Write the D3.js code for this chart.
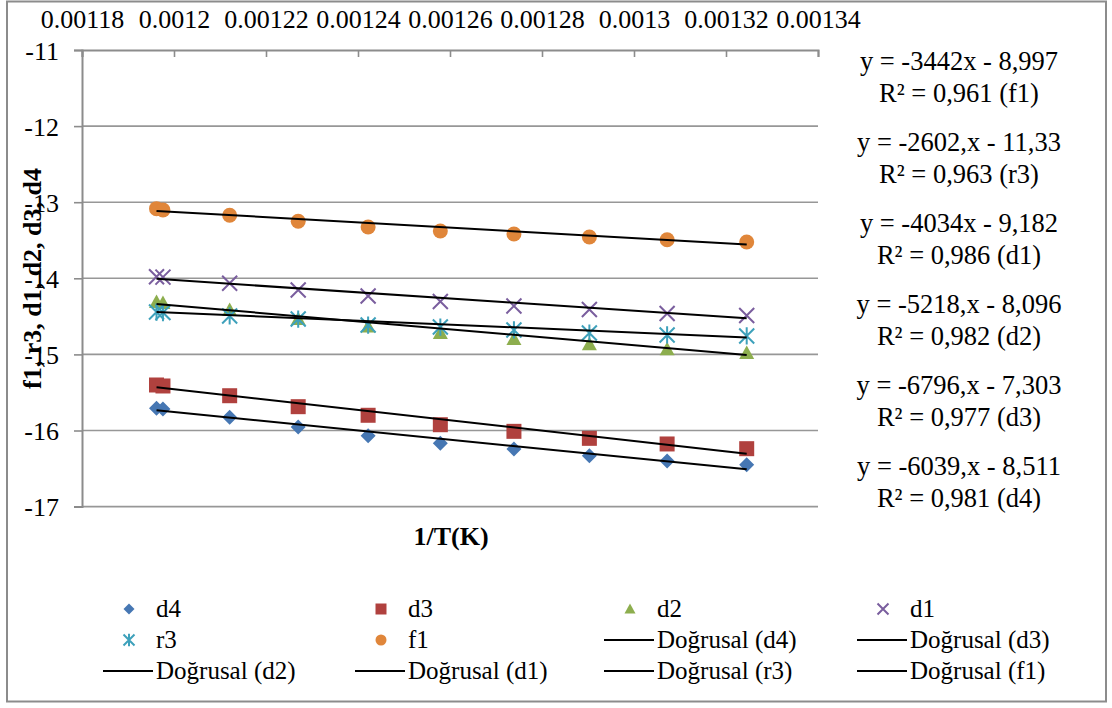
<!DOCTYPE html>
<html>
<head>
<meta charset="utf-8">
<script src="https://d3js.org/d3.v7.min.js"></script>
<style>
  html, body { margin: 0; padding: 0; background: #ffffff; }
  svg { display: block; font-family: "Liberation Serif", "Times New Roman", serif; }
</style>
</head>
<body>
<svg id="chart" width="1112" height="708"></svg>
<script>
// 1/T values (1/K) shared by every series
const invT = [0.0011962, 0.0011976, 0.0012121, 0.0012270, 0.0012422, 0.0012579, 0.0012739, 0.0012903, 0.0013072, 0.0013245];

// Measured values per sample
const valsD4 = [-15.708, -15.717, -15.827, -15.954, -16.068, -16.168, -16.243, -16.331, -16.401, -16.449];
const valsD3 = [-15.402, -15.415, -15.543, -15.687, -15.800, -15.924, -16.011, -16.103, -16.177, -16.239];
const valsD2 = [-14.311, -14.325, -14.417, -14.535, -14.633, -14.719, -14.798, -14.867, -14.933, -14.982];
const valsD1 = [-13.979, -13.985, -14.066, -14.154, -14.233, -14.305, -14.364, -14.410, -14.463, -14.489];
const valsR3 = [-14.443, -14.450, -14.495, -14.535, -14.614, -14.640, -14.679, -14.719, -14.745, -14.758];
const valsF1 = [-13.085, -13.102, -13.172, -13.251, -13.326, -13.378, -13.418, -13.457, -13.493, -13.523];

// Series names, plotting order and marker colours
const seriesNames = ["d4", "d3", "d2", "d1", "r3", "f1"];
const seriesValues = [valsD4, valsD3, valsD2, valsD1, valsR3, valsF1];
const seriesColors = ["#4677b3", "#b0413e", "#8dae4e", "#7a5e9e", "#3ea1bb", "#e0863a"];
const seriesShapes = ["diamond", "square", "triangle", "cross", "star", "circle"];

// Linear fits y = a*x + b
const fitSlope = [-6039, -6796, -5218, -4034, -2602, -3442];
const fitIntercept = [-8.511, -7.303, -8.096, -9.182, -11.33, -8.997];

// Fit labels, listed top to bottom
const fitEquationText = ["y = -3442x - 8,997", "y = -2602,x - 11,33", "y = -4034x - 9,182",
                         "y = -5218,x - 8,096", "y = -6796,x - 7,303", "y = -6039,x - 8,511"];
const fitR2Text = ["R² = 0,961 (f1)", "R² = 0,963 (r3)", "R² = 0,986 (d1)",
                   "R² = 0,982 (d2)", "R² = 0,977 (d3)", "R² = 0,981 (d4)"];

// Axis ticks
const xTicks = [0.00118, 0.0012, 0.00122, 0.00124, 0.00126, 0.00128, 0.0013, 0.00132, 0.00134];
const yTicks = [-11, -12, -13, -14, -15, -16, -17];

const svg = d3.select("#chart");
const plot = { left: 82, right: 818, top: 50, bottom: 506.6 };

// Outer frame
svg.append("rect")
  .attr("x", 7).attr("y", 1.5).attr("width", 1099).attr("height", 700)
  .attr("fill", "#ffffff").attr("stroke", "#8c8c8c").attr("stroke-width", 2);

const x = d3.scaleLinear().domain([0.00118, 0.00134]).range([plot.left, plot.right]);
const y = d3.scaleLinear().domain([-11, -17]).range([plot.top, plot.bottom]);

// Horizontal gridlines
svg.append("g").selectAll("line")
  .data(yTicks.filter(v => v !== -11))
  .join("line")
  .attr("x1", plot.left).attr("x2", plot.right)
  .attr("y1", d => y(d)).attr("y2", d => y(d))
  .attr("stroke", "#979797").attr("stroke-width", 1.6);

// Left value axis
const yAxis = d3.axisLeft(y).tickValues(yTicks).tickSize(8).tickPadding(15)
  .tickFormat(d => String(d));
const gy = svg.append("g").attr("transform", `translate(${plot.left},0)`).call(yAxis);
gy.select(".domain").attr("stroke", "#8c8c8c").attr("stroke-width", 2);
gy.selectAll(".tick line").attr("stroke", "#8c8c8c").attr("stroke-width", 1.6);
gy.selectAll(".tick text").attr("font-size", 26).attr("fill", "#000")
  .attr("font-family", "Liberation Serif").attr("dy", "0.36em");

// Top category axis (1/T)
const xAxis = d3.axisTop(x).tickValues(xTicks).tickSizeInner(-7).tickSizeOuter(-7).tickPadding(22)
  .tickFormat(d => String(+d.toFixed(5)));
const gx = svg.append("g").attr("transform", `translate(0,${plot.top})`).call(xAxis);
gx.select(".domain").attr("stroke", "#8c8c8c").attr("stroke-width", 2);
gx.selectAll(".tick line").attr("stroke", "#8c8c8c").attr("stroke-width", 1.6);
gx.selectAll(".tick text").attr("font-size", 26).attr("fill", "#000")
  .attr("font-family", "Liberation Serif");

// Marker shapes
function markerPath(shape, s) {
  const h = s / 2;
  switch (shape) {
    case "diamond": return `M0,${-h}L${h},0L0,${h}L${-h},0Z`;
    case "square": return `M${-h},${-h}H${h}V${h}H${-h}Z`;
    case "triangle": return `M0,${-h}L${h},${h * 0.8}L${-h},${h * 0.8}Z`;
    case "cross": return `M${-h},${-h}L${h},${h}M${-h},${h}L${h},${-h}`;
    case "star": return `M${-h},${-h}L${h},${h}M${-h},${h}L${h},${-h}M0,${-h * 1.15}L0,${h * 1.15}`;
    case "circle": return d3.symbol(d3.symbolCircle, Math.PI * h * h)();
  }
}
function drawMarker(g, shape, color, s) {
  const p = g.append("path").attr("d", markerPath(shape, s));
  if (shape === "cross" || shape === "star") {
    p.attr("fill", "none").attr("stroke", color).attr("stroke-width", 2);
  } else {
    p.attr("fill", color).attr("stroke", "none");
  }
}

// Data markers
const markerLayer = svg.append("g");
seriesNames.forEach((name, i) => {
  seriesValues[i].forEach((v, j) => {
    const g = markerLayer.append("g").attr("transform", `translate(${x(invT[j])},${y(v)})`);
    drawMarker(g, seriesShapes[i], seriesColors[i], 15);
  });
});

// Linear trendlines over the observed 1/T range
const xMin = d3.min(invT), xMax = d3.max(invT);
const trendLayer = svg.append("g");
seriesNames.forEach((name, i) => {
  const f = t => fitSlope[i] * t + fitIntercept[i];
  trendLayer.append("line")
    .attr("x1", x(xMin)).attr("y1", y(f(xMin)))
    .attr("x2", x(xMax)).attr("y2", y(f(xMax)))
    .attr("stroke", "#000").attr("stroke-width", 2);
});

// Fit equations on the right
const eqLayer = svg.append("g").attr("font-size", 26.5).attr("text-anchor", "middle").attr("fill", "#000");
fitEquationText.forEach((eq, k) => {
  const base = 70 + k * 81;
  eqLayer.append("text").attr("x", 959).attr("y", base).text(eq);
  eqLayer.append("text").attr("x", 959).attr("y", base + 31.5).text(fitR2Text[k]);
});

// Axis titles
svg.append("text")
  .attr("x", 451).attr("y", 545)
  .attr("text-anchor", "middle").attr("font-size", 26).attr("font-weight", "bold")
  .text("1/T(K)");
svg.append("text")
  .attr("transform", "translate(41,278.5) rotate(-90)")
  .attr("text-anchor", "middle").attr("font-size", 26).attr("font-weight", "bold")
  .text("f1, r3, d1, d2, d3, d4");

// Legend: 4 columns x 3 rows
const legendItems = [
  ...seriesNames.map((n, i) => ({ label: n, type: "marker", i })),
  ...seriesNames.map(n => ({ label: `Doğrusal (${n})`, type: "line" }))
];
const legendColX = [103, 355, 604, 857];
const legendRowY = [609, 640, 671];
const legend = svg.append("g").attr("font-size", 25).attr("fill", "#000");
legendItems.forEach((item, k) => {
  const cx = legendColX[k % 4], cy = legendRowY[Math.floor(k / 4)];
  const g = legend.append("g").attr("transform", `translate(${cx},${cy})`);
  if (item.type === "marker") {
    const mg = g.append("g").attr("transform", "translate(26,0)");
    drawMarker(mg, seriesShapes[item.i], seriesColors[item.i], 11);
  } else {
    g.append("line").attr("x1", 0).attr("x2", 50).attr("y1", 0).attr("y2", 0)
      .attr("stroke", "#000").attr("stroke-width", 2);
  }
  g.append("text").attr("x", 53).attr("y", 0).attr("dy", "0.33em").text(item.label);
});
</script>
</body>
</html>
